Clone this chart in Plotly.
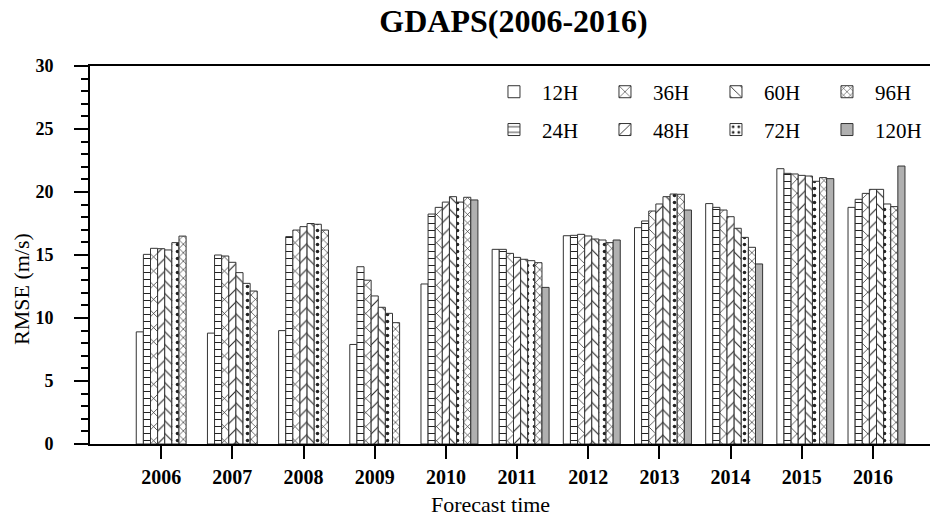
import plotly.graph_objects as go

years = [2006, 2007, 2008, 2009, 2010, 2011, 2012, 2013, 2014, 2015, 2016]
tick_labels = [str(y) for y in years]

h12 = [8.9, 8.8, 9.0, 7.9, 12.7, 15.45, 16.53, 17.17, 19.08, 21.85, 18.78]
h24 = [15.05, 15.0, 16.46, 14.07, 18.25, 15.45, 16.56, 17.7, 18.78, 21.48, 19.42]
h36 = [15.53, 14.92, 16.98, 13.0, 18.78, 15.13, 16.64, 18.49, 18.57, 21.43, 19.89]
h48 = [15.5, 14.42, 17.25, 11.75, 19.2, 14.81, 16.51, 19.05, 18.04, 21.32, 20.21]
h60 = [15.4, 13.6, 17.5, 10.85, 19.63, 14.66, 16.27, 19.63, 17.12, 21.27, 20.21]
h72 = [15.98, 12.75, 17.44, 10.37, 19.2, 14.55, 16.19, 19.84, 16.4, 20.85, 19.05]
h96 = [16.5, 12.14, 16.98, 9.63, 19.58, 14.39, 15.98, 19.82, 15.61, 21.14, 18.84]
h120 = [None, None, None, None, 19.37, 12.43, 16.19, 18.57, 14.29, 21.06, 22.06]

series_names = ["12H", "24H", "36H", "48H", "60H", "72H", "96H", "120H"]
series_values = [h12, h24, h36, h48, h60, h72, h96, h120]

# style per series: (fill, pattern shape, pattern size, solidity, legend id)
styles = [
    ("white", "", 8, 0.2, "legend"),
    ("white", "-", 7, 0.15, "legend2"),
    ("white", "x", 10, 0.14, "legend"),
    ("white", "/", 9, 0.12, "legend2"),
    ("white", "\\", 9, 0.12, "legend"),
    ("white", ".", 7, 0.2, "legend2"),
    ("white", "x", 6, 0.2, "legend"),
    ("#b0b0b0", "", 8, 0.2, "legend2"),
]

BAR_W = 0.1
fig = go.Figure()
for i, (name, vals) in enumerate(zip(series_names, series_values)):
    fill, shape, psize, sol, lg = styles[i]
    marker = dict(color=fill, line=dict(color="#333333", width=1))
    if shape:
        marker["pattern"] = dict(shape=shape, size=psize, solidity=sol,
                                 fgcolor="#222222", bgcolor=fill, fillmode="replace")
    fig.add_trace(go.Bar(
        x=years, y=vals, name=name, width=BAR_W,
        offset=(i - 3.5) * BAR_W, marker=marker, legend=lg,
    ))

font_family = "Liberation Serif"
legend_common = dict(
    orientation="h", xanchor="left", yanchor="middle",
    font=dict(family=font_family, size=21, color="black"),
    bgcolor="rgba(0,0,0,0)", borderwidth=0,
    itemwidth=46, entrywidth=50, entrywidthmode="pixels",
    traceorder="normal",
)

# page body adds an 8px offset, so the figure is 930x513
W, H = 930, 513
fig.update_layout(
    width=W, height=H,
    margin=dict(l=82, r=1, t=58, b=77),
    paper_bgcolor="white", plot_bgcolor="white",
    barmode="overlay",
    title=dict(text="<b>GDAPS(2006-2016)</b>", x=0.5, xref="paper",
               y=1 - 13 / H, yref="container", yanchor="middle", xanchor="center",
               font=dict(family=font_family, size=32, color="black")),
    font=dict(family=font_family, color="black"),
    legend=dict(x=0.4675, y=0.931, **legend_common),
    legend2=dict(x=0.4675, y=0.831, **legend_common),
    xaxis=dict(
        range=[2005.0, 2016.9],
        tickvals=years, ticktext=["<b>%s</b>" % t for t in tick_labels],
        ticks="outside", ticklen=13, tickwidth=2, tickcolor="black",
        showline=True, linewidth=2, linecolor="black", mirror=True,
        showgrid=False, zeroline=False,
        tickfont=dict(family=font_family, size=20, color="black"),
        ticklabelstandoff=1,
    ),
    yaxis=dict(
        range=[0, 30], tickvals=[0, 5, 10, 15, 20, 25, 30],
        ticktext=["<b>%d</b>" % v for v in [0, 5, 10, 15, 20, 25, 30]],
        ticks="outside", ticklen=14, tickwidth=2, tickcolor="black",
        minor=dict(dtick=1, ticks="outside", ticklen=7, tickwidth=2, tickcolor="black"),
        showline=True, linewidth=2, linecolor="black", mirror=False,
        showgrid=False, zeroline=False,
        tickfont=dict(family=font_family, size=18, color="black"),
        ticklabelstandoff=17,
    ),
    annotations=[
        dict(text="RMSE (m/s)", textangle=-90, x=-0.0815, y=0.41,
             xanchor="center", yanchor="middle",
             xref="paper", yref="paper", showarrow=False,
             font=dict(family=font_family, size=22, color="black")),
        dict(text="Forecast time", x=0.473, y=-0.161,
             xanchor="center", yanchor="middle",
             xref="paper", yref="paper", showarrow=False,
             font=dict(family=font_family, size=22, color="black")),
    ],
)

fig.write_html("out.html")
